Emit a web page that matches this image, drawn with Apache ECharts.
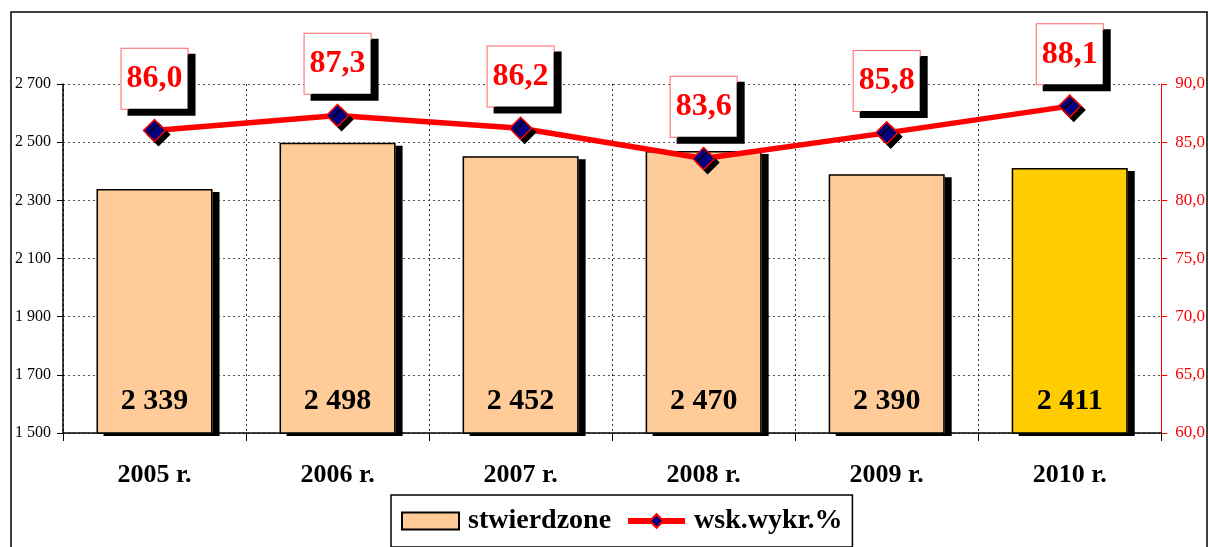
<!DOCTYPE html>
<html>
<head>
<meta charset="utf-8">
<script src="https://cdn.jsdelivr.net/npm/echarts@6/dist/echarts.min.js"></script>
<style>
  html, body { margin: 0; padding: 0; background: #fff; }
  #chart { width: 1208px; height: 547px; }
</style>
</head>
<body>
<div id="chart"></div>
<script>
// dane z wykresu
var years = ["2005 r.", "2006 r.", "2007 r.", "2008 r.", "2009 r.", "2010 r."];
var stwierdzone = [2339, 2498, 2452, 2470, 2390, 2411];
var wskWykr = [86.0, 87.3, 86.2, 83.6, 85.8, 88.1];
var leftTicks = { min: 1500, max: 2700, interval: 200 };
var rightTicks = { min: 60, max: 90, interval: 5 };

var FONT = "Liberation Serif";

// 2 339 zamiast 2339
function spaced(v) {
  return String(v).replace(/\B(?=(\d{3})+(?!\d))/g, " ");
}
// 86,0 zamiast 86.0
function comma(v) {
  return Number(v).toFixed(1).replace(".", ",");
}

var barData = stwierdzone.map(function (v, i) {
  var item = { value: v };
  if (i === stwierdzone.length - 1) {
    item.itemStyle = { color: "#FFCC00" }; // ostatni rok wyróżniony
  }
  return item;
});

var chart = echarts.init(document.getElementById("chart"));
chart.setOption({
  animation: false,
  textStyle: { fontFamily: FONT },
  graphic: [
    {
      type: "rect",
      silent: true,
      z: -10,
      shape: { x: 11, y: 12, width: 1196, height: 600 },
      style: { fill: "#fff", stroke: "#000", lineWidth: 1.5 }
    }
  ],
  grid: { left: 63, right: 42, top: 84, bottom: 114 },
  legend: {
    left: 391,
    top: 495,
    padding: [12, 10, 12, 10],
    backgroundColor: "#fff",
    borderColor: "#000",
    borderWidth: 1.5,
    borderRadius: 0,
    itemWidth: 57,
    itemHeight: 17,
    itemGap: 14,
    textStyle: {
      fontFamily: FONT,
      fontSize: 28,
      fontWeight: "bold",
      color: "#000",
      padding: [0, 0, 0, 4]
    },
    data: [
      { name: "stwierdzone", icon: "rect" },
      { name: "wsk.wykr.%", lineStyle: { width: 6, color: "#FF0000" } }
    ]
  },
  xAxis: {
    type: "category",
    data: years,
    boundaryGap: true,
    axisLine: { lineStyle: { color: "#000", width: 1.5 } },
    axisTick: { show: true, length: 8, lineStyle: { color: "#000" } },
    axisLabel: {
      margin: 29,
      fontFamily: FONT,
      fontSize: 26,
      fontWeight: "bold",
      color: "#000"
    },
    splitLine: {
      show: true,
      lineStyle: { color: "#333", type: [2, 3], width: 1 }
    }
  },
  yAxis: [
    {
      type: "value",
      min: leftTicks.min,
      max: leftTicks.max,
      interval: leftTicks.interval,
      axisLine: { show: true, lineStyle: { color: "#000", width: 1.5 } },
      axisTick: { show: true, length: 6, lineStyle: { color: "#000" } },
      axisLabel: {
        margin: 12,
        fontFamily: FONT,
        fontSize: 16,
        color: "#000",
        padding: [0, 0, 10, 0],
        formatter: spaced
      },
      splitLine: {
        show: true,
        lineStyle: { color: "#555", type: [2, 3], width: 1 }
      }
    },
    {
      type: "value",
      min: rightTicks.min,
      max: rightTicks.max,
      interval: rightTicks.interval,
      position: "right",
      axisLine: { show: true, lineStyle: { color: "#FF0000", width: 1 } },
      axisTick: { show: true, length: 6, lineStyle: { color: "#FF0000" } },
      axisLabel: {
        margin: 14,
        fontFamily: FONT,
        fontSize: 17,
        color: "#FF0000",
        padding: [0, 0, 10, 0],
        formatter: comma
      },
      splitLine: { show: false }
    }
  ],
  series: [
    {
      // tylko cień pod słupkami (bez obramowania, żeby cień nie wchodził na słupek)
      name: "cien",
      type: "bar",
      barWidth: 116,
      barGap: "-100%",
      silent: true,
      z: 1,
      data: barData,
      itemStyle: {
        color: "#FFCC99",
        shadowColor: "#000",
        shadowBlur: 0,
        shadowOffsetX: 7,
        shadowOffsetY: 3
      }
    },
    {
      name: "stwierdzone",
      type: "bar",
      barWidth: 116,
      barGap: "-100%",
      z: 2,
      data: barData,
      itemStyle: {
        color: "#FFCC99",
        borderColor: "#000",
        borderWidth: 1.5
      },
      label: {
        show: true,
        position: "insideBottom",
        distance: 18,
        fontFamily: FONT,
        fontSize: 30,
        fontWeight: "bold",
        color: "#000",
        formatter: function (p) { return spaced(p.value); }
      }
    },
    {
      name: "wsk.wykr.%",
      type: "line",
      yAxisIndex: 1,
      z: 3,
      data: wskWykr,
      symbol: "diamond",
      symbolSize: 22,
      lineStyle: { color: "#FF0000", width: 5.5 },
      itemStyle: {
        color: "#000080",
        borderColor: "#FF0000",
        borderWidth: 1.5,
        shadowColor: "#000",
        shadowBlur: 0,
        shadowOffsetX: 4,
        shadowOffsetY: 4
      },
      label: {
        show: true,
        position: "top",
        distance: 10,
        fontFamily: FONT,
        fontSize: 32,
        fontWeight: "bold",
        color: "#FF0000",
        backgroundColor: "#fff",
        borderColor: "#FF6666",
        borderWidth: 1,
        padding: [14, 5, 14, 5],
        shadowColor: "#000",
        shadowBlur: 0,
        shadowOffsetX: 7,
        shadowOffsetY: 6,
        formatter: function (p) { return comma(p.value); }
      }
    }
  ]
});
</script>
</body>
</html>
